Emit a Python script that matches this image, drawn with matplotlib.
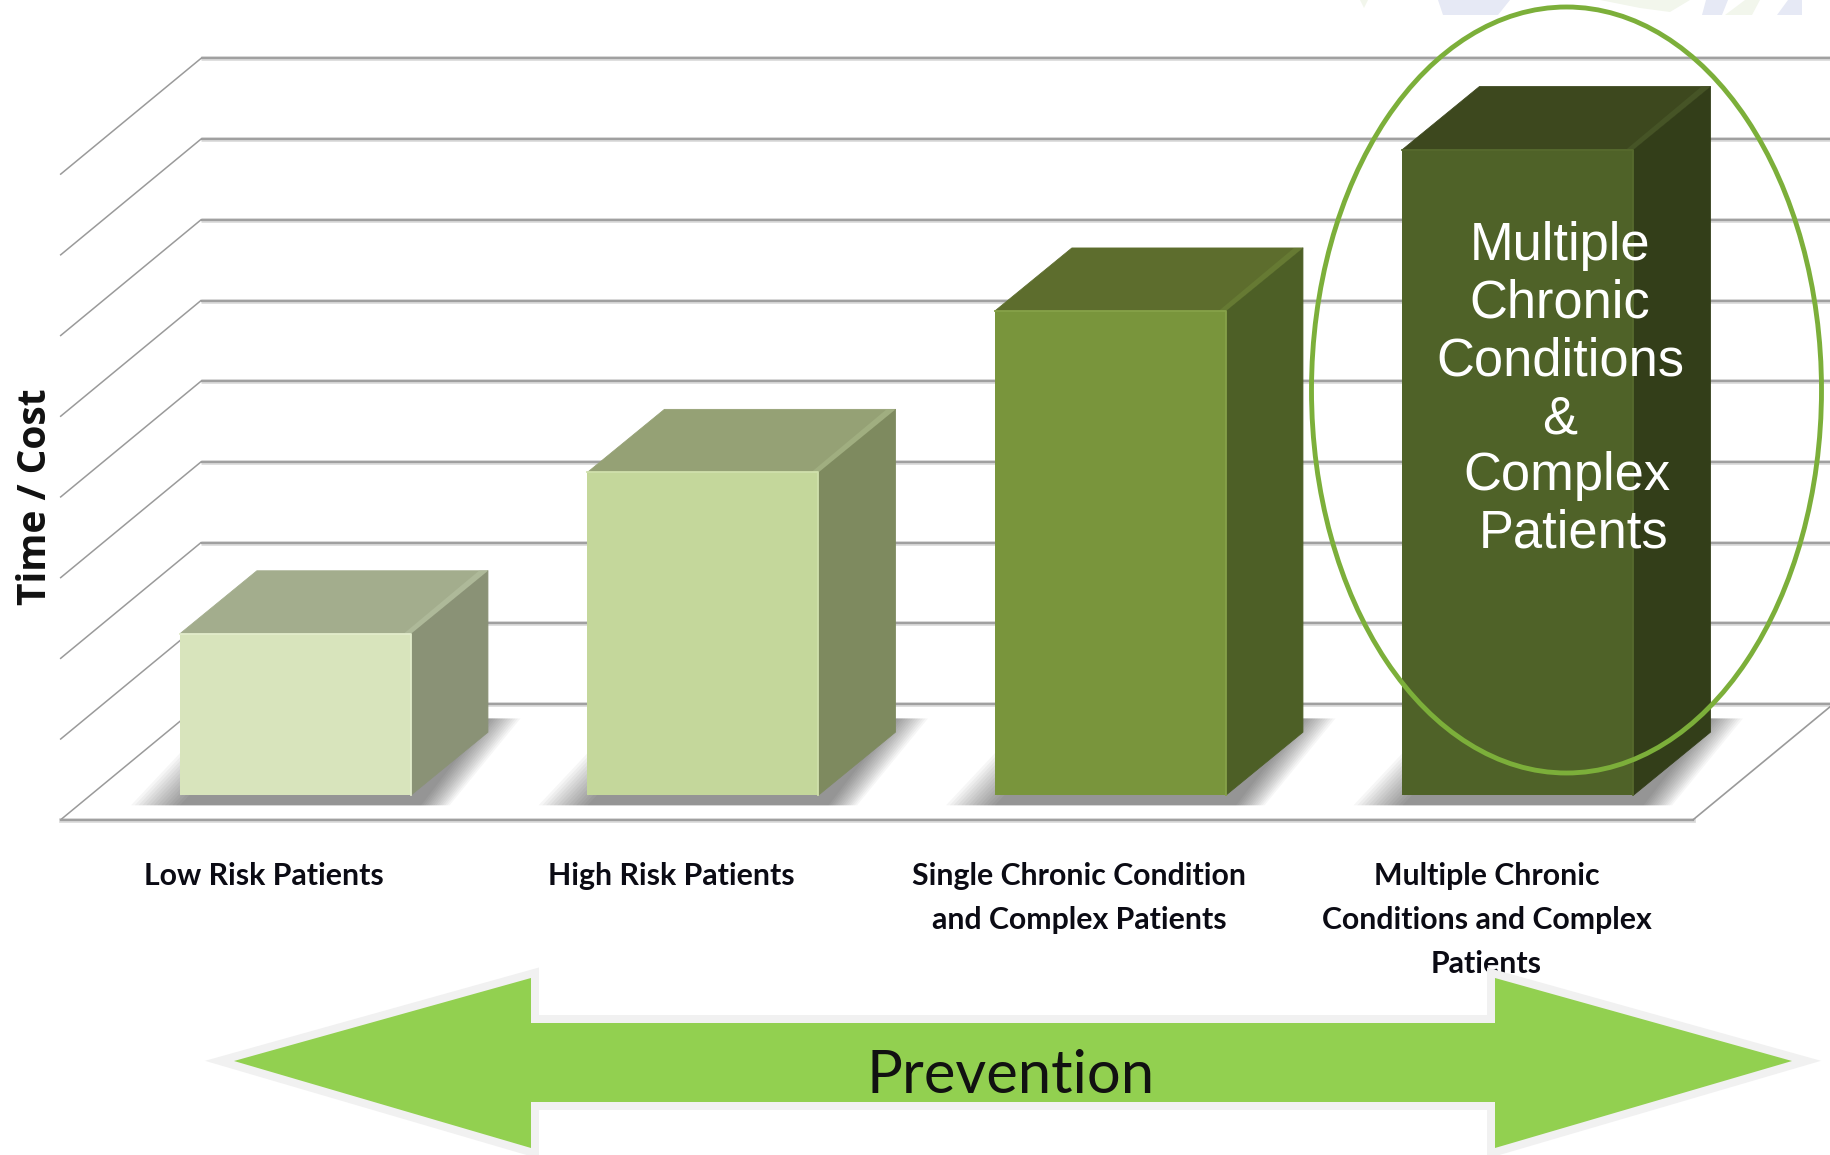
import matplotlib
matplotlib.use("Agg")
import matplotlib.pyplot as plt
from matplotlib.patches import Polygon, Ellipse

# Chart content
categories = ["Low Risk Patients", "High Risk Patients",
              "Single Chronic Condition\nand Complex Patients",
              "Multiple Chronic\nConditions and Complex\nPatients"]
values = [2, 4, 6, 8]
grid_levels = [0, 1, 2, 3, 4, 5, 6, 7, 8]
front_colors = ["#D8E4BC", "#C4D79B", "#79953C", "#4F6228"]
top_colors = ["#A3AD8D", "#95A175", "#5D6D2D", "#3D481E"]
side_colors = ["#8A9276", "#7E8A5F", "#4D5F26", "#333E19"]
edge_colors = ["#E2ECCB", "#D0E0AC", "#86A249", "#56692D"]
bevel_colors = ["#AEB999", "#A0AE80", "#667A33", "#465426"]
callout_lines = ["Multiple", "Chronic", "Conditions", "&", "Complex", "Patients"]
callout_x = [1560, 1560, 1560, 1560, 1567, 1574]
callout_y = [246, 304, 361, 420, 476, 534]

W, H = 1831, 1155
CAT_PX, VAL_PX = 407.5, 80.7      # pixels per category step / per value unit
X0_PX, Y0_PX = 295.4, 795.2       # pixel position of category 0 and of value 0

BAR_W = 0.567
DEPTH_X, DEPTH_Y = 0.189, 0.781   # oblique offset of a bar's back face
WALL_X, WALL_Y = 0.344, 1.433     # oblique offset of the back wall
FLOOR_L, FLOOR_R, FLOOR_Y = -0.576, 3.43, -0.304
WALL_BASE = FLOOR_Y + WALL_Y

fig = plt.figure(figsize=(W / 100, H / 100), dpi=100, facecolor="white")
ax = fig.add_axes([0, 0, 1, 1])
ax.set_xlim(-X0_PX / CAT_PX, (W - X0_PX) / CAT_PX)
ax.set_ylim((Y0_PX - H) / VAL_PX, Y0_PX / VAL_PX)
ax.axis("off")

GRID = "#A0A0A0"
wall_left = FLOOR_L + WALL_X
right_end = ax.get_xlim()[1]

# Back wall gridlines with a soft halo, and the receding side lines
for lvl in grid_levels:
    y = WALL_BASE + lvl
    ax.plot([wall_left, right_end], [y, y], color="#DADADA", lw=3.4, zorder=1,
            solid_capstyle="butt")
    ax.plot([wall_left, right_end], [y, y], color=GRID, lw=1.6, zorder=1.1,
            solid_capstyle="butt")
    ax.plot([wall_left, FLOOR_L], [y, y - WALL_Y], color="#9A9A9A", lw=1.1, zorder=1.1)

# Floor front edge and right-hand edge
ax.plot([FLOOR_L, FLOOR_R], [FLOOR_Y, FLOOR_Y], color="#DADADA", lw=3.4, zorder=1)
ax.plot([FLOOR_L, FLOOR_R], [FLOOR_Y, FLOOR_Y], color=GRID, lw=1.6, zorder=1.1)
ax.plot([FLOOR_R, FLOOR_R + WALL_X], [FLOOR_Y, FLOOR_Y + WALL_Y], color="#9A9A9A", lw=1.2, zorder=1.1)

# Bars as oblique boxes with a layered floor shadow
LAYERS = 14
for i, v in enumerate(values):
    xl, xr = i - BAR_W / 2, i + BAR_W / 2
    for k in range(LAYERS):
        t = k / (LAYERS - 1)
        near = -0.125
        far = DEPTH_Y + 0.17
        left = xl - 0.12 * (1 - t)
        right_near = xr + 0.07 * (1 - t) + 0.025
        right_far = xr + DEPTH_X + 0.08 * (1 - t)
        ax.add_patch(Polygon([(left, near), (right_near, near), (right_far, far), (left + 0.2, far)],
                             closed=True, fc="black", ec="none", alpha=0.034, zorder=2))
    ax.add_patch(Polygon([(xl, v), (xr, v), (xr + DEPTH_X, v + DEPTH_Y), (xl + DEPTH_X, v + DEPTH_Y)],
                         closed=True, fc=top_colors[i], ec=top_colors[i], lw=0.6,
                         joinstyle="round", zorder=3))
    ax.add_patch(Polygon([(xr, 0), (xr + DEPTH_X, DEPTH_Y), (xr + DEPTH_X, v + DEPTH_Y), (xr, v)],
                         closed=True, fc=side_colors[i], ec=side_colors[i], lw=0.6,
                         joinstyle="round", zorder=3))
    # Bevel along the top face's right edge
    ax.add_patch(Polygon([(xr, v), (xr + DEPTH_X, v + DEPTH_Y), (xr + DEPTH_X - 0.022, v + DEPTH_Y),
                          (xr - 0.018, v)],
                         closed=True, fc=bevel_colors[i], ec="none", zorder=3.05))
    ax.add_patch(Polygon([(xl, 0), (xr, 0), (xr, v), (xl, v)],
                         closed=True, fc=front_colors[i], ec="none", zorder=3.2))
    ax.plot([xl, xr, xr], [v, v, 0], color=edge_colors[i], lw=1.3, zorder=3.3,
            solid_joinstyle="round")

# Category labels below the floor
LABEL_STEP = 44 / VAL_PX
for i, cat in enumerate(categories):
    for j, line in enumerate(cat.split("\n")):
        ax.text(i - 0.077, (Y0_PX - 876) / VAL_PX - j * LABEL_STEP, line, ha="center", va="center",
                family="Lato", fontweight="bold", fontsize=21.8, color="#0B0B14", zorder=4)

# Annotations placed in figure pixels, layered over the chart
ov = fig.add_axes([0, 0, 1, 1], facecolor="none")
ov.set_xlim(0, W)
ov.set_ylim(H, 0)
ov.axis("off")

ov.text(36, 497, "Time / Cost", rotation=90, ha="center", va="center",
        family="Open Sans", fontweight="bold", fontsize=28, color="#111111")

ov.add_patch(Ellipse((1566.5, 390), 510, 766, fc="none", ec="#7CAF3A", lw=3.5, zorder=5))

for line, x, y in zip(callout_lines, callout_x, callout_y):
    ov.text(x, y, line, ha="center", va="center", family="Liberation Sans",
            fontsize=37.8, color="white", zorder=6)

# Double-headed prevention arrow: pale outline first, solid fill on top
arrow_pts = [(234, 1061), (531, 978), (531, 1023), (1495, 1023), (1495, 978), (1792, 1061),
             (1495, 1148), (1495, 1102), (531, 1102), (531, 1148)]
ov.add_patch(Polygon(arrow_pts, closed=True, fc="#F1F1F1", ec="#F1F1F1", lw=11.5, joinstyle="miter",
                     zorder=7))
ov.add_patch(Polygon(arrow_pts, closed=True, fc="#92D050", ec="none", zorder=7.1))
ov.text(1011, 1076, "Prevention", ha="center", va="center", family="Lato",
        fontsize=43, color="#111111", zorder=8)

# Cropped logo fragment along the top edge
lavender_pieces = [[(1438, 0), (1510, 0), (1498, 15), (1443, 15)],
                   [(1706, 0), (1728, 0), (1722, 15), (1702, 15)],
                   [(1788, 0), (1802, 0), (1802, 15), (1777, 15)]]
pale_green_pieces = [[(1360, 0), (1368, 0), (1364, 8)],
                     [(1600, 0), (1690, 0), (1670, 12), (1640, 8)],
                     [(1745, 0), (1760, 0), (1752, 15), (1725, 15)]]
for piece in lavender_pieces:
    ov.add_patch(Polygon(piece, closed=True, fc="#E6E9F5", ec="none", zorder=0.5))
for piece in pale_green_pieces:
    ov.add_patch(Polygon(piece, closed=True, fc="#F2F6EC", ec="none", zorder=0.5))

fig.savefig("out.png", dpi=100)
